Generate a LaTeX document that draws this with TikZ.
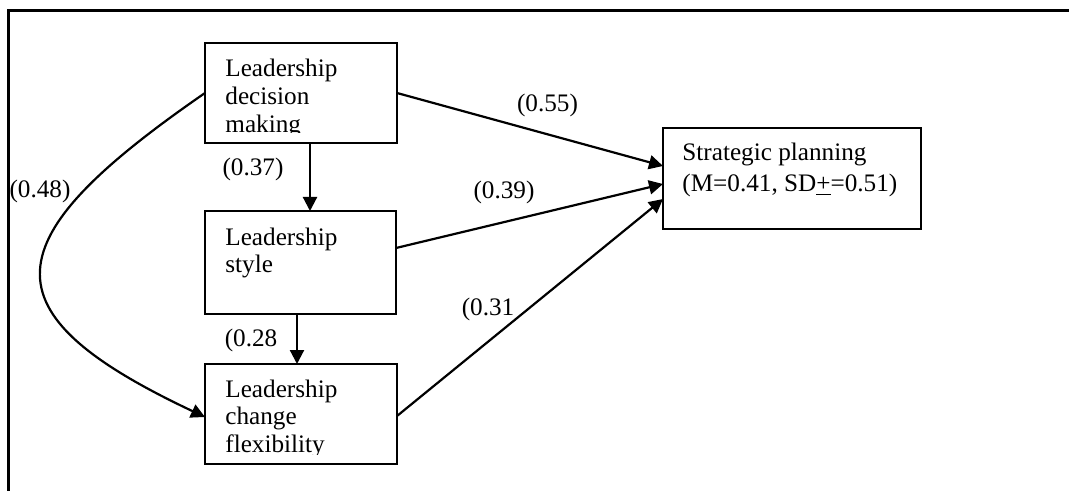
\documentclass[tikz,border=0pt]{standalone}
\usepackage{fontspec}
\setmainfont{Liberation Serif}
\usetikzlibrary{arrows.meta,calc}
\begin{document}
\begin{tikzpicture}[x=0.5pt,y=-0.5pt,
  box/.style={draw,line width=1.1pt,inner sep=0pt,outer sep=0pt},
  txt/.style={inner sep=0pt,align=left,font=\fontsize{12.6}{13.8}\selectfont,anchor=base west},
  lbl/.style={inner sep=0pt,font=\fontsize{12.6}{14}\selectfont},
  arr/.style={line width=1.1pt,-{Triangle[length=7pt,width=7pt]}}]
\useasboundingbox (0,0) rectangle (1069,491);
\draw[line width=1.1pt] (8.5,491) -- (8.5,10.5) -- (1069,10.5);
% boxes
\node[box,minimum width=96pt,minimum height=50pt] (A) at (301,93) {};
\node[box,minimum width=95.5pt,minimum height=51.5pt] (B) at (300.5,262.5) {};
\node[box,minimum width=96pt,minimum height=50pt] (C) at (301,414) {};
\node[box,minimum width=129pt,minimum height=50.5pt] (D) at (792,178.5) {};
% box texts (anchored at the baseline of the last line)
\begin{scope}
\clip (A.north west) rectangle ($(A.south east)+(0,-10)$);
\node[txt] (tA) at (225,132.2) {Leadership\\decision\\making};
\end{scope}
\node[txt] (tB) at (225,272.6) {Leadership\\style};
\begin{scope}
\clip (C.north west) rectangle ($(C.south east)+(0,-10)$);
\node[txt] (tC) at (225,452.2) {Leadership\\change\\flexibility};
\end{scope}
\node[txt,font=\fontsize{12.6}{15.5}\selectfont] (tD) at (682,192) {Strategic planning\\(M=0.41, SD\underline{+}=0.51)};
% connectors
\draw[arr] (A.east) -- ($(D.west)+(0,-12.5)$);
\draw[arr] ($(B.east)+(0,-14.5)$) -- ($(D.west)+(0,5.5)$);
\draw[arr] ($(C.east)+(0,2)$) -- ($(D.west)+(0,20.5)$);
\draw[arr] ($(A.south)+(9,0)$) -- ($(B.north)+(9.5,0)$);
\draw[arr] ($(B.south)+(-3.5,0)$) -- ($(C.north)+(-4,0)$);
\draw[arr] (A.west) .. controls (-8,240) and (-18,312) .. ($(C.west)+(0,3)$);
% labels
\node[lbl] (l55) at (547.5,105) {(0.55)};
\node[lbl] (l39) at (504,192) {(0.39)};
\node[lbl] (l31) at (488,309) {(0.31};
\node[lbl] (l37) at (253,169) {(0.37)};
\node[lbl] (l28) at (251,340) {(0.28};
\node[lbl] (l48) at (40,191) {(0.48)};
\end{tikzpicture}
\end{document}
